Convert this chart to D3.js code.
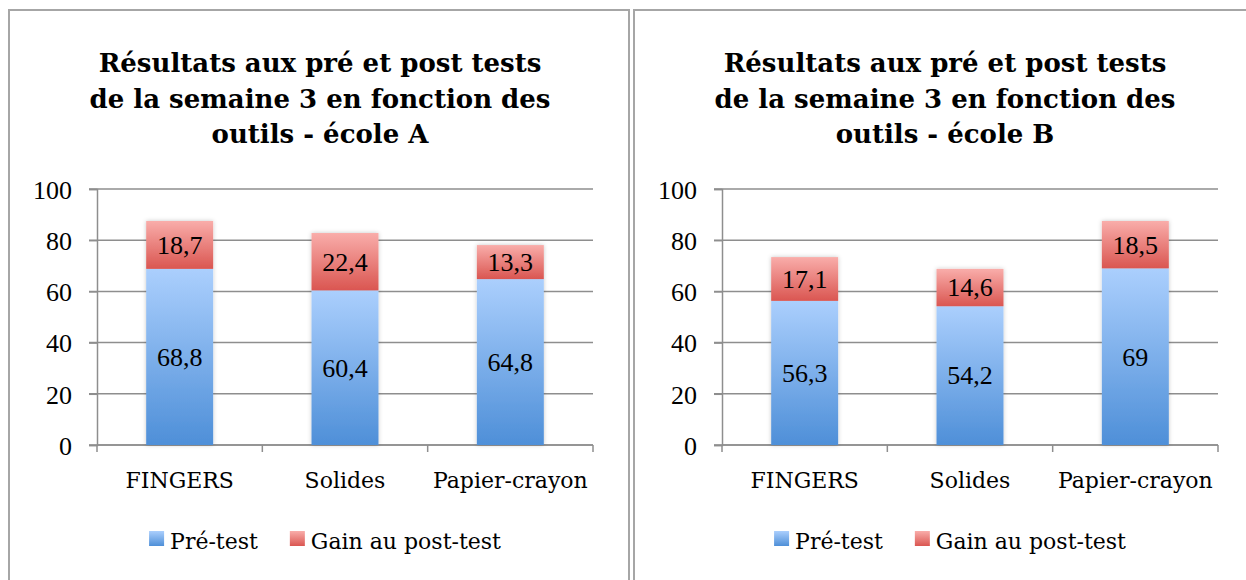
<!DOCTYPE html>
<html>
<head>
<meta charset="utf-8">
<script src="https://cdn.jsdelivr.net/npm/d3@7"></script>
<style>
  html, body { margin: 0; padding: 0; background: #fff; }
  svg { display: block; }
  text { font-family: "DejaVu Serif", "Liberation Serif", serif; fill: #000; }
  .num { font-family: "Liberation Serif", "DejaVu Serif", serif; }
</style>
</head>
<body>
<svg id="chart" width="1246" height="580"></svg>
<script>
// Outils comparés et résultats par école (pré-test + gain au post-test)
const categories = ["FINGERS", "Solides", "Papier-crayon"];
const seriesNames = ["Pré-test", "Gain au post-test"];

const preTestA = [68.8, 60.4, 64.8];
const gainA = [18.7, 22.4, 13.3];

const preTestB = [56.3, 54.2, 69];
const gainB = [17.1, 14.6, 18.5];

const yTicks = [0, 20, 40, 60, 80, 100];

const titleLinesA = ["Résultats aux pré et post tests", "de la semaine 3 en fonction des", "outils - école A"];
const titleLinesB = ["Résultats aux pré et post tests", "de la semaine 3 en fonction des", "outils - école B"];

const svg = d3.select("#chart");

// Dégradés des barres
const defs = svg.append("defs");
function gradient(id, top, bottom) {
  const g = defs.append("linearGradient").attr("id", id)
    .attr("x1", 0).attr("y1", 0).attr("x2", 0).attr("y2", 1);
  g.append("stop").attr("offset", "0%").attr("stop-color", top);
  g.append("stop").attr("offset", "100%").attr("stop-color", bottom);
}
gradient("gradBlue", "#abcffd", "#4e8fd8");
gradient("gradRed", "#f9adaa", "#da5651");

const shadow = defs.append("filter").attr("id", "barShadow")
  .attr("x", "-20%").attr("y", "-10%").attr("width", "140%").attr("height", "120%");
shadow.append("feDropShadow").attr("dx", 0).attr("dy", 0)
  .attr("stdDeviation", 2).attr("flood-color", "#000").attr("flood-opacity", 0.22);

const fmt = v => String(v).replace(".", ",");

function drawPanel(offsetX, titleLines, pre, gain) {
  const g = svg.append("g").attr("transform", `translate(${offsetX},0)`);

  // Cadre du graphique
  g.append("rect")
    .attr("x", 9).attr("y", 10).attr("width", 620).attr("height", 600)
    .attr("fill", "#fff").attr("stroke", "#a6a6a6").attr("stroke-width", 2);

  // Titre
  const title = g.append("text")
    .attr("text-anchor", "middle")
    .attr("font-size", 26).attr("font-weight", "bold");
  titleLines.forEach((line, i) => {
    title.append("tspan").attr("x", 320).attr("y", 72 + i * 35.5).text(line);
  });

  const x = d3.scaleBand().domain(categories).range([97, 593])
    .paddingInner(0.595).paddingOuter(0.2975);
  const y = d3.scaleLinear().domain([0, 100]).range([445, 189]);

  // Grille horizontale
  g.append("g").selectAll("line").data(yTicks).join("line")
    .attr("x1", 89).attr("x2", 593)
    .attr("y1", d => y(d)).attr("y2", d => y(d))
    .attr("stroke", "#8e8e8e").attr("stroke-width", 1.5);

  // Axe vertical
  const yAxis = g.append("g").attr("transform", "translate(97,0)")
    .call(d3.axisLeft(y).tickValues(yTicks).tickSize(8).tickPadding(17));
  yAxis.select(".domain").attr("stroke", "#8e8e8e").attr("stroke-width", 1.5);
  yAxis.selectAll(".tick line").attr("stroke", "#8e8e8e").attr("stroke-width", 1.5);
  yAxis.selectAll(".tick text")
    .attr("class", "num")
    .attr("font-family", null).attr("font-size", 26).attr("fill", "#000")
    .attr("dy", "0.36em");

  // Axe horizontal
  const bounds = [97].concat(categories.map(c => x(c) + x.bandwidth() / 2 + x.step() / 2));
  g.append("line").attr("x1", 97).attr("x2", 593).attr("y1", y(0)).attr("y2", y(0))
    .attr("stroke", "#8e8e8e").attr("stroke-width", 1.5);
  g.append("g").selectAll("line").data(bounds).join("line")
    .attr("x1", d => d).attr("x2", d => d)
    .attr("y1", y(0)).attr("y2", y(0) + 7)
    .attr("stroke", "#8e8e8e").attr("stroke-width", 1.5);
  g.append("g").selectAll("text").data(categories).join("text")
    .attr("x", d => x(d) + x.bandwidth() / 2).attr("y", 488)
    .attr("text-anchor", "middle").attr("font-size", 22)
    .text(d => d);

  // Barres empilées
  const rows = categories.map((c, i) => ({ cat: c, pre: pre[i], gain: gain[i] }));
  const bars = g.append("g").attr("filter", "url(#barShadow)");
  bars.selectAll("rect.pre").data(rows).join("rect").attr("class", "pre")
    .attr("x", d => x(d.cat)).attr("width", x.bandwidth())
    .attr("y", d => y(d.pre)).attr("height", d => y(0) - y(d.pre))
    .attr("fill", "url(#gradBlue)");
  bars.selectAll("rect.gain").data(rows).join("rect").attr("class", "gain")
    .attr("x", d => x(d.cat)).attr("width", x.bandwidth())
    .attr("y", d => y(d.pre + d.gain)).attr("height", d => y(d.pre) - y(d.pre + d.gain))
    .attr("fill", "url(#gradRed)");

  // Étiquettes de valeurs
  const labels = g.append("g").attr("class", "num").attr("font-size", 26).attr("text-anchor", "middle");
  labels.selectAll("text.pre").data(rows).join("text").attr("class", "num pre")
    .attr("x", d => x(d.cat) + x.bandwidth() / 2)
    .attr("y", d => (y(0) + y(d.pre)) / 2).attr("dy", "0.34em")
    .text(d => fmt(d.pre));
  labels.selectAll("text.gain").data(rows).join("text").attr("class", "num gain")
    .attr("x", d => x(d.cat) + x.bandwidth() / 2)
    .attr("y", d => (y(d.pre) + y(d.pre + d.gain)) / 2).attr("dy", "0.34em")
    .text(d => fmt(d.gain));

  // Légende
  const legend = g.append("g");
  const fills = ["url(#gradBlue)", "url(#gradRed)"];
  let cx = 0;
  seriesNames.forEach((name, i) => {
    const item = legend.append("g");
    item.append("rect").attr("x", 0).attr("y", 531).attr("width", 15).attr("height", 15)
      .attr("fill", fills[i]);
    const t = item.append("text").attr("x", 21).attr("y", 549).attr("font-size", 22).text(name);
    const w = 21 + t.node().getComputedTextLength();
    item.attr("transform", `translate(${cx},0)`);
    cx += w + 32;
  });
  const total = cx - 32;
  legend.attr("transform", `translate(${325 - total / 2},0)`);
}

drawPanel(0, titleLinesA, preTestA, gainA);
drawPanel(625, titleLinesB, preTestB, gainB);
</script>
</body>
</html>
